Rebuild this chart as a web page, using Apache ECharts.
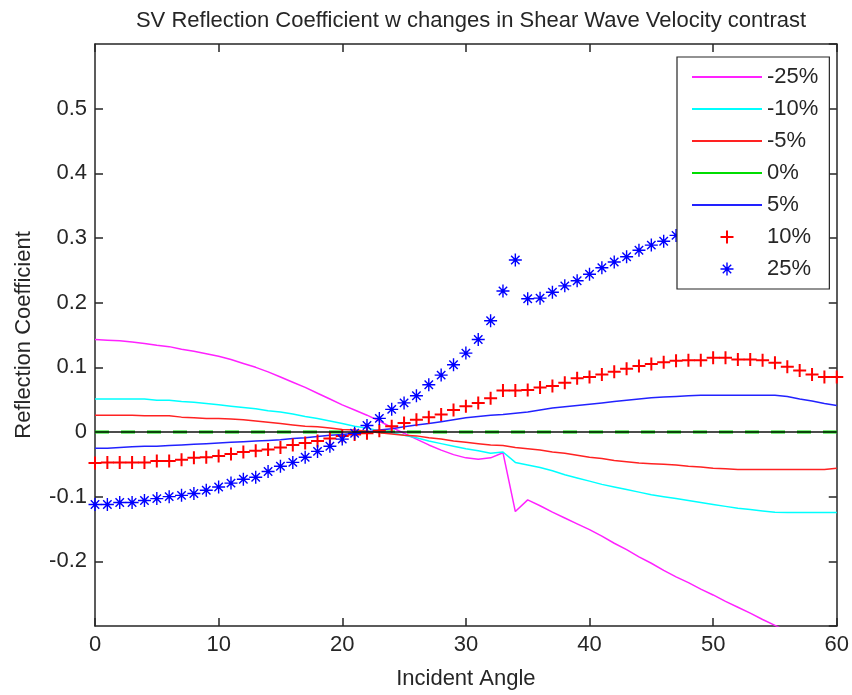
<!DOCTYPE html>
<html>
<head>
<meta charset="utf-8">
<script src="https://cdn.jsdelivr.net/npm/echarts@6/dist/echarts.min.js"></script>
<style>
  html, body { margin: 0; padding: 0; background: #fff; }
  #chart { width: 852px; height: 695px; }
</style>
</head>
<body>
<div id="chart"></div>
<script>
// Incident angle in degrees
const angles = [0,1,2,3,4,5,6,7,8,9,10,11,12,13,14,15,16,17,18,19,20,
  21,22,23,24,25,26,27,28,29,30,31,32,33,34,35,36,37,38,39,40,
  41,42,43,44,45,46,47,48,49,50,51,52,53,54,55,56,57,58,59,60];

// SV reflection coefficient for each shear-velocity contrast
const rcMinus25 = [0.143,0.142,0.141,0.139,0.137,0.134,0.132,0.128,0.125,0.121,0.117,
  0.112,0.106,0.100,0.093,0.085,0.077,0.069,0.060,0.051,0.042,
  0.034,0.026,0.017,0.007,-0.002,-0.011,-0.020,-0.028,-0.035,-0.040,
  -0.042,-0.040,-0.032,-0.123,-0.105,-0.114,-0.124,-0.133,-0.142,-0.151,
  -0.161,-0.172,-0.182,-0.193,-0.203,-0.214,-0.224,-0.233,-0.243,-0.252,
  -0.262,-0.271,-0.280,-0.290,-0.299,-0.308,-0.318,-0.327,-0.336,-0.345];

const rcMinus10 = [0.051,0.051,0.051,0.051,0.051,0.049,0.049,0.047,0.046,0.044,0.042,
  0.040,0.038,0.036,0.033,0.031,0.028,0.024,0.021,0.017,0.013,
  0.009,0.006,0.002,-0.001,-0.005,-0.009,-0.014,-0.018,-0.022,-0.026,
  -0.029,-0.033,-0.031,-0.047,-0.051,-0.055,-0.060,-0.066,-0.071,-0.076,
  -0.081,-0.085,-0.089,-0.093,-0.097,-0.100,-0.103,-0.106,-0.109,-0.112,
  -0.115,-0.118,-0.120,-0.122,-0.124,-0.1245,-0.1245,-0.1245,-0.1245,-0.1245];

const rcMinus5 = [0.026,0.026,0.026,0.026,0.025,0.025,0.025,0.023,0.022,0.021,0.021,
  0.020,0.019,0.017,0.015,0.013,0.011,0.009,0.008,0.006,0.004,
  0.003,0.001,-0.001,-0.003,-0.005,-0.006,-0.009,-0.011,-0.014,-0.016,
  -0.018,-0.020,-0.021,-0.024,-0.026,-0.028,-0.031,-0.033,-0.036,-0.039,
  -0.041,-0.044,-0.046,-0.048,-0.049,-0.050,-0.051,-0.053,-0.054,-0.056,
  -0.057,-0.058,-0.058,-0.058,-0.058,-0.058,-0.058,-0.058,-0.058,-0.056];

const rcZero = [0,0,0,0,0,0,0,0,0,0,0,0,0,0,0,0,0,0,0,0,0,
  0,0,0,0,0,0,0,0,0,0,0,0,0,0,0,0,0,0,0,0,
  0,0,0,0,0,0,0,0,0,0,0,0,0,0,0,0,0,0,0,0];

const rcPlus5 = [-0.025,-0.025,-0.024,-0.023,-0.022,-0.022,-0.021,-0.020,-0.019,-0.018,-0.017,
  -0.016,-0.015,-0.014,-0.013,-0.012,-0.010,-0.009,-0.007,-0.005,-0.004,
  -0.002,0.000,0.003,0.005,0.008,0.011,0.013,0.016,0.019,0.022,
  0.024,0.026,0.027,0.029,0.031,0.034,0.037,0.039,0.041,0.043,
  0.045,0.047,0.049,0.051,0.053,0.054,0.055,0.056,0.057,0.057,
  0.057,0.057,0.057,0.057,0.057,0.055,0.051,0.048,0.044,0.041];

const rcPlus10 = [-0.048,-0.047,-0.047,-0.047,-0.047,-0.045,-0.045,-0.043,-0.040,-0.039,-0.037,
  -0.034,-0.031,-0.029,-0.027,-0.024,-0.020,-0.017,-0.014,-0.010,-0.006,
  -0.004,-0.002,0.002,0.009,0.014,0.019,0.023,0.027,0.034,0.040,
  0.045,0.052,0.064,0.064,0.065,0.069,0.071,0.076,0.083,0.085,
  0.089,0.093,0.098,0.102,0.105,0.108,0.110,0.111,0.111,0.115,
  0.115,0.112,0.112,0.111,0.107,0.101,0.095,0.089,0.085,0.085];

const rcPlus25 = [-0.112,-0.112,-0.109,-0.109,-0.106,-0.103,-0.100,-0.098,-0.095,-0.090,-0.085,
  -0.079,-0.073,-0.070,-0.061,-0.053,-0.047,-0.039,-0.030,-0.022,-0.011,
  -0.002,0.010,0.021,0.035,0.045,0.056,0.073,0.088,0.104,0.122,
  0.143,0.172,0.218,0.266,0.206,0.207,0.216,0.226,0.234,0.244,
  0.254,0.263,0.271,0.281,0.289,0.295,0.304];

const seriesNames = ['-25%', '-10%', '-5%', '0%', '5%', '10%', '25%'];
const xTicks = { min: 0, max: 60, step: 10 };
const yTicks = { min: -0.3, max: 0.6, step: 0.1 };

const FONT = "'Liberation Sans', Arial, Helvetica, sans-serif";
const INK = '#262626';

function pairs(vals) {
  return vals.map((v, i) => [angles[i], v]);
}

// MATLAB-style '+' and '*' markers built from thin bars
const plusMark = 'path://M-1,-6.5 h2 v13 h-2 Z M-6.5,-1 h13 v2 h-13 Z';
const starMark = 'path://M-0.7,-6.5 L0.7,-6.5 L0.7,6.5 L-0.7,6.5 Z ' +
  'M-6.5,-0.7 L6.5,-0.7 L6.5,0.7 L-6.5,0.7 Z ' +
  'M-3.7,-4.7 L4.7,3.7 L3.7,4.7 L-4.7,-3.7 Z ' +
  'M-4.7,3.7 L3.7,-4.7 L4.7,-3.7 L-3.7,4.7 Z';
// plain stroke used as the legend key for the line series
const lineKey = 'path://M0,0 L70,0 L70,2 L0,2 Z';

function lineSeries(name, vals, color, extra) {
  return Object.assign({
    name: name,
    type: 'line',
    data: pairs(vals),
    showSymbol: false,
    symbol: 'none',
    lineStyle: { color: color, width: 1.5 },
    itemStyle: { color: color },
    animation: false
  }, extra || {});
}

function markerSeries(name, vals, color, mark, size) {
  return {
    name: name,
    type: 'line',
    data: pairs(vals),
    symbol: mark,
    symbolSize: size,
    showAllSymbol: true,
    lineStyle: { width: 0, opacity: 0 },
    itemStyle: { color: color },
    animation: false
  };
}

const axisCommon = {
  type: 'value',
  axisLine: { show: true, onZero: false, lineStyle: { color: INK, width: 1.5 } },
  axisTick: { show: true, inside: true, length: 8, lineStyle: { color: INK, width: 1.5 } },
  splitLine: { show: false }
};

const chart = echarts.init(document.getElementById('chart'), null, { renderer: 'canvas' });

chart.setOption({
  backgroundColor: '#ffffff',
  animation: false,
  title: {
    text: 'SV Reflection Coefficient w changes in Shear Wave Velocity contrast',
    left: 466,
    textAlign: 'center',
    top: 5,
    textStyle: { fontFamily: FONT, fontSize: 22, fontWeight: 'normal', color: INK }
  },
  grid: { left: 95, right: 12, top: 44, bottom: 63, containLabel: false },
  legend: {
    data: seriesNames.map(n => {
      if (n === '10%') return { name: n, icon: plusMark };
      if (n === '25%') return { name: n, icon: starMark };
      return { name: n, icon: lineKey };
    }),
    orient: 'vertical',
    left: 677,
    top: 57,
    itemWidth: 70,
    itemHeight: 13,
    itemGap: 10,
    padding: [9, 11, 9, 15],
    backgroundColor: '#ffffff',
    borderColor: INK,
    borderWidth: 1.2,
    borderRadius: 0,
    selectedMode: false,
    textStyle: { fontFamily: FONT, fontSize: 22, color: INK, padding: [0, 0, 0, 0] },
    z: 10
  },
  xAxis: [
    Object.assign({}, axisCommon, {
      position: 'bottom',
      min: xTicks.min, max: xTicks.max, interval: xTicks.step,
      name: 'Incident Angle',
      nameLocation: 'middle',
      nameGap: 42,
      nameTextStyle: { fontFamily: FONT, fontSize: 22, color: INK },
      axisLabel: { margin: 8, fontFamily: FONT, fontSize: 22, color: INK }
    }),
    Object.assign({}, axisCommon, {
      position: 'top',
      min: xTicks.min, max: xTicks.max, interval: xTicks.step,
      axisLabel: { show: false }
    })
  ],
  yAxis: [
    Object.assign({}, axisCommon, {
      position: 'left',
      min: yTicks.min, max: yTicks.max, interval: yTicks.step,
      name: 'Reflection Coefficient',
      nameLocation: 'middle',
      nameRotate: 90,
      nameGap: 60,
      nameTextStyle: { fontFamily: FONT, fontSize: 22, color: INK },
      axisLabel: {
        margin: 8, fontFamily: FONT, fontSize: 22, color: INK,
        showMinLabel: false, showMaxLabel: false,
        formatter: v => String(Math.round(v * 10) / 10)
      }
    }),
    Object.assign({}, axisCommon, {
      position: 'right',
      min: yTicks.min, max: yTicks.max, interval: yTicks.step,
      axisLabel: { show: false }
    })
  ],
  series: [
    lineSeries('0%', rcZero, '#00dd00', {
      lineStyle: { color: '#00dd00', width: 3, type: [14, 12] },
      markLine: {
        silent: true,
        symbol: 'none',
        label: { show: false },
        lineStyle: { color: '#111111', width: 1.6, type: 'solid' },
        data: [{ yAxis: 0 }],
        animation: false
      }
    }),
    lineSeries('-25%', rcMinus25, '#ff22ff'),
    lineSeries('-10%', rcMinus10, '#00ffff'),
    lineSeries('-5%', rcMinus5, '#ff2222'),
    lineSeries('5%', rcPlus5, '#2222ff'),
    markerSeries('10%', rcPlus10, '#ff0000', plusMark, 13),
    markerSeries('25%', rcPlus25, '#0000ff', starMark, 13)
  ]
});
</script>
</body>
</html>
